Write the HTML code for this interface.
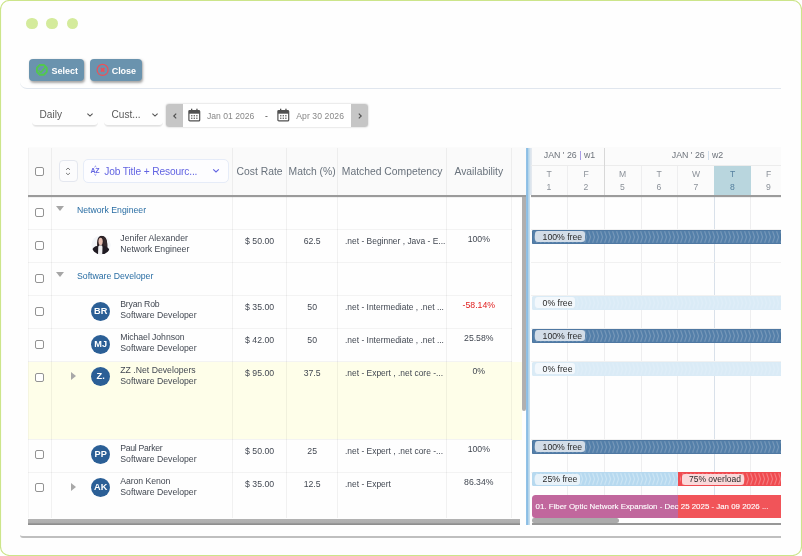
<!DOCTYPE html>
<html lang="en">
<head>
<meta charset="utf-8">
<title>Resource Selection</title>
<style>
*{box-sizing:border-box;margin:0;padding:0}
html,body{width:802px;height:556px;background:#fff;overflow:hidden}
body{font-family:"Liberation Sans",sans-serif;position:relative;color:#333}
.abs{position:absolute}
#frame{position:absolute;left:0;top:0}
.dot{position:absolute;width:11.6px;height:11.6px;border-radius:50%;background:#d4eb9c;top:17.9px}
.btn{position:absolute;top:59px;height:22px;border-radius:4px;background:#6a93ae;color:#fff;font-weight:bold;font-size:9px;line-height:22px;box-shadow:1px 1.5px 2.5px rgba(0,0,0,.35)}
.btn span{position:absolute;top:0.5px}
#bar{position:absolute;left:20px;top:52px;width:761px;height:37px;border-bottom:1px solid #e0e6ee;border-bottom-left-radius:7px}
.dd{position:absolute;top:103px;height:23px;font-size:10.1px;color:#5a5a5a;line-height:24px;border-radius:0 0 4px 4px;border-bottom:1px solid #e2e2e2;box-shadow:0 1.5px 1px -1px rgba(0,0,0,.08)}
.dd span{position:absolute;left:7.5px;top:0}
.dd svg{position:absolute;right:4px;top:8.6px}
#range{position:absolute;left:166px;top:104px;width:201.6px;height:23px;border-radius:3px;background:#fff;box-shadow:0 0 2px rgba(0,0,0,.28);overflow:hidden;font-size:8.6px;color:#888;line-height:23px}
#range .nav{position:absolute;top:0;width:17px;height:23px;background:#c6c6c6}
#range .t{position:absolute;top:0.5px}
/* table */
#grid{position:absolute;left:28px;top:148px;width:753px;height:377px;overflow:hidden}
.hd{position:absolute;left:0;top:0;height:47px;background:#fafafa}
.hline{position:absolute;height:2px;background:#9b9b9b;top:47px;box-shadow:0 0.5px 0.6px rgba(0,0,0,.10)}
.vl{position:absolute;top:0;width:1px;background:rgba(0,0,0,.05);height:370px}
.rl{position:absolute;left:0;width:483.5px;height:1px;background:#f3f3f3}
.hc{position:absolute;top:0;height:47px;line-height:48.5px;font-size:10.35px;color:#69727c;text-align:center;white-space:nowrap}
.cb{position:absolute;left:7.3px;width:9px;height:9px;border:1px solid #939393;border-radius:2px;background:#fff}
.cell{position:absolute;font-size:8.7px;color:#424852;white-space:nowrap;line-height:11px}
.c{text-align:center}
.av{position:absolute;width:19px;height:19px;border-radius:50%;background:#2b5f96;color:#fff;font-weight:bold;font-size:9.2px;line-height:19.5px;text-align:center}
.av span{display:inline-block;transform:scale(1,1.06);transform-origin:50% 60%}
.grp{color:#296da3}
.tri{position:absolute;width:0;height:0}
.gbar{position:absolute;height:14px;left:504px;width:249px;overflow:hidden;border-radius:1.5px 0 0 1.5px}
.lab{position:absolute;left:3.4px;top:1.7px;height:10.6px;border-radius:3px;font-size:8.7px;line-height:10.6px;color:#2a2a2a;padding:0.4px 2.8px 0 7.2px;white-space:nowrap}
#foot{position:absolute;left:20px;top:530px;width:761px;height:8px;border-bottom:2px solid #bfbfbf;border-bottom-left-radius:3px}
</style>
</head>
<body>
<svg id="frame" width="802" height="556" viewBox="0 0 802 556"><rect x="0.5" y="0.5" width="801" height="555" rx="9" ry="9" fill="#fefefe" stroke="#cce58a" stroke-width="1.15"/></svg>
<div class="dot" style="left:26px"></div>
<div class="dot" style="left:46.4px"></div>
<div class="dot" style="left:66.7px"></div>

<div id="bar"></div>
<div class="btn" style="left:29px;width:55px">
  <svg class="abs" style="left:6px;top:4px" width="14" height="14" viewBox="0 0 14 14"><polygon points="11.75,8.88 8.88,11.75 4.82,11.75 1.95,8.88 1.95,4.82 4.82,1.95 8.88,1.95 11.75,4.82" fill="none" stroke="#52c84e" stroke-width="1.9" stroke-linejoin="round"/><path d="M3.9 7.9 L5.8 9.4 L9.8 4.8" fill="none" stroke="#52c84e" stroke-width="1.5" stroke-linecap="round" stroke-linejoin="round"/></svg>
  <span style="left:22.5px">Select</span>
</div>
<div class="btn" style="left:90px;width:52px">
  <svg class="abs" style="left:6px;top:4px" width="14" height="14" viewBox="0 0 14 14"><circle cx="6.6" cy="6.9" r="5.5" fill="none" stroke="#f04e56" stroke-width="1.15"/><path d="M4.9 5.2 L8.3 8.6 M8.3 5.2 L4.9 8.6" fill="none" stroke="#f04e56" stroke-width="1.7"/></svg>
  <span style="left:21.8px;letter-spacing:-0.1px">Close</span>
</div>

<div class="dd" style="left:32px;width:66px"><span>Daily</span>
  <svg width="8" height="6" viewBox="0 0 8 6"><path d="M1.4 1.6 L4 4.1 L6.6 1.6" fill="none" stroke="#555" stroke-width="1.1"/></svg></div>
<div class="dd" style="left:104px;width:59px"><span>Cust...</span>
  <svg width="8" height="6" viewBox="0 0 8 6"><path d="M1.4 1.6 L4 4.1 L6.6 1.6" fill="none" stroke="#555" stroke-width="1.1"/></svg></div>

<div id="range">
  <div class="nav" style="left:0"><svg class="abs" style="left:6px;top:7.5px" width="6" height="8" viewBox="0 0 6 8"><path d="M4.2 1.7 L1.8 4 L4.2 6.3" fill="none" stroke="#505050" stroke-width="1.15"/></svg></div>
  <svg class="abs" style="left:22px;top:4px" width="13" height="14" viewBox="0 0 13 14"><rect x="0.9" y="2.5" width="10.8" height="10.4" rx="1" fill="#fff" stroke="#505050" stroke-width="1.2"/><rect x="0.9" y="2.5" width="10.8" height="3.2" fill="#505050"/><rect x="3" y="0.7" width="1.3" height="2.6" fill="#505050"/><rect x="8.3" y="0.7" width="1.3" height="2.6" fill="#505050"/><g fill="#5a5a5a"><rect x="3.1" y="7.1" width="1.3" height="1.3"/><rect x="5.65" y="7.1" width="1.3" height="1.3"/><rect x="8.2" y="7.1" width="1.3" height="1.3"/><rect x="3.1" y="9.6" width="1.3" height="1.3"/><rect x="5.65" y="9.6" width="1.3" height="1.3"/><rect x="8.2" y="9.6" width="1.3" height="1.3"/></g></svg>
  <span class="t" style="left:41px">Jan 01 2026</span>
  <span class="t" style="left:99px;color:#444">-</span>
  <svg class="abs" style="left:111px;top:4px" width="13" height="14" viewBox="0 0 13 14"><rect x="0.9" y="2.5" width="10.8" height="10.4" rx="1" fill="#fff" stroke="#505050" stroke-width="1.2"/><rect x="0.9" y="2.5" width="10.8" height="3.2" fill="#505050"/><rect x="3" y="0.7" width="1.3" height="2.6" fill="#505050"/><rect x="8.3" y="0.7" width="1.3" height="2.6" fill="#505050"/><g fill="#5a5a5a"><rect x="3.1" y="7.1" width="1.3" height="1.3"/><rect x="5.65" y="7.1" width="1.3" height="1.3"/><rect x="8.2" y="7.1" width="1.3" height="1.3"/><rect x="3.1" y="9.6" width="1.3" height="1.3"/><rect x="5.65" y="9.6" width="1.3" height="1.3"/><rect x="8.2" y="9.6" width="1.3" height="1.3"/></g></svg>
  <span class="t" style="left:130.2px;letter-spacing:0.1px">Apr 30 2026</span>
  <div class="nav" style="left:185px"><svg class="abs" style="left:5.5px;top:7.5px" width="6" height="8" viewBox="0 0 6 8"><path d="M1.8 1.7 L4.2 4 L1.8 6.3" fill="none" stroke="#505050" stroke-width="1.15"/></svg></div>
</div>

<div id="hdtop" class="abs" style="left:28px;top:147px;width:753px;height:1px;background:#fbfbfb"></div>
<div id="grid">
<div class="hd" style="width:498px"></div>
<div class="abs" style="left:0;top:213.60000000000002px;width:493.7px;height:78.1px;background:#fefee9"></div>
<div class="rl" style="top:81.0px"></div>
<div class="rl" style="top:114.0px"></div>
<div class="rl" style="top:147.0px"></div>
<div class="rl" style="top:180.0px"></div>
<div class="rl" style="top:213.0px"></div>
<div class="rl" style="top:291.0px"></div>
<div class="rl" style="top:324.0px"></div>
<div class="vl" style="left:0;background:rgba(0,0,0,.035)"></div>
<div class="vl" style="left:23.0px"></div>
<div class="vl" style="left:204.1px"></div>
<div class="vl" style="left:258.1px"></div>
<div class="vl" style="left:309.2px"></div>
<div class="vl" style="left:418.1px"></div>
<div class="vl" style="left:482.5px"></div>
<div class="cb" style="top:19px"></div>
<div class="abs" style="left:31px;top:12px;width:19px;height:22px;border:1px solid #e4e7ef;border-radius:4px;background:#fcfcfd">
<svg class="abs" style="left:4px;top:4.7px" width="8" height="11" viewBox="0 0 8 11"><path d="M2 3.9 L4 2 L6 3.9 M2 6.9 L4 8.8 L6 6.9" fill="none" stroke="#808080" stroke-width="1"/></svg></div>
<div class="abs" style="left:55px;top:11px;width:146px;height:24px;border:1px solid #e6ecf8;border-radius:5px;background:#fdfdff;font-size:10.2px;letter-spacing:-0.13px;color:#6264e2;line-height:23.4px">
<svg class="abs" style="left:5.6px;top:3.5px" width="12" height="13" viewBox="0 0 12 13"><text x="0.6" y="9" font-family="Liberation Sans, sans-serif" font-size="7" font-weight="bold" letter-spacing="-0.5" fill="#6264e2">AZ</text><path d="M4.5 3 L5.4 2.2 L6.3 3 M4.5 10.3 L5.4 11.1 L6.3 10.3" fill="none" stroke="#6264e2" stroke-width="0.9"/></svg>
<span class="abs" style="left:20.2px;top:0">Job Title + Resourc...</span>
<svg class="abs" style="left:128px;top:8.4px" width="8" height="6" viewBox="0 0 8 6"><path d="M1.2 1.3 L4 4 L6.8 1.3" fill="none" stroke="#6264e2" stroke-width="1.1"/></svg></div>
<div class="hc" style="left:204.6px;width:54.00000000000003px">Cost Rate</div>
<div class="hc" style="left:258.6px;width:51.099999999999966px">Match (%)</div>
<div class="hc" style="left:309.7px;width:108.90000000000003px">Matched Competency</div>
<div class="hc" style="left:418.6px;width:64.39999999999998px">Availability</div>
<div class="cb" style="top:60.0px"></div>
<div class="tri" style="left:28px;top:58.099999999999994px;border-left:4.4px solid transparent;border-right:4.4px solid transparent;border-top:5px solid #a6a6a6"></div>
<div class="cell grp" style="left:49px;top:56.5px">Network Engineer</div>
<div class="cb" style="top:92.5px"></div>
<svg class="abs" style="left:62.900000000000006px;top:87.4px" width="20" height="20" viewBox="0 0 20 20"><defs><clipPath id="cp"><circle cx="10" cy="10" r="9.6"/></clipPath></defs><circle cx="10" cy="10" r="9.6" fill="#f2f4f7"/><g clip-path="url(#cp)"><path d="M6.2 11.5 C5.6 6 6.6 0.8 10.6 0.8 C14.8 0.8 16.6 5 16.2 12.5 L11.5 12.5 Z" fill="#2b2024"/><ellipse cx="9.6" cy="6.4" rx="2.1" ry="3.6" fill="#e6bfb2"/><path d="M11 3 C13 4 13.5 8 13 12 L16.3 12.5 C16.6 6 15 2 12 1.5 Z" fill="#33282b"/><path d="M0.8 19 C0.8 13 3 11.2 7.6 10.8 L10 14 L11.6 10.8 C16 11.2 19 13 19 19 Z" fill="#1f1a22"/><path d="M7.3 11.6 L8.6 10.2 L11 10.4 L11.5 12 L11.2 20 L7 20 Z" fill="#efeff1"/></g></svg>
<div class="cell" style="left:92.3px;top:84.5px;line-height:11px"><span style="letter-spacing:0.03px">Jenifer Alexander</span><br>Network Engineer</div>
<div class="cell c" style="left:204.6px;width:54px;top:87.5px">$ 50.00</div>
<div class="cell c" style="left:258.6px;width:51.1px;top:87.5px">62.5</div>
<div class="cell" style="left:317px;top:87.5px;font-size:8.45px">.net - Beginner , Java - E...</div>
<div class="cell c" style="left:418.6px;width:64.4px;top:86.0px">100%</div>
<div class="cb" style="top:126.0px"></div>
<div class="tri" style="left:28px;top:124.10000000000002px;border-left:4.4px solid transparent;border-right:4.4px solid transparent;border-top:5px solid #a6a6a6"></div>
<div class="cell grp" style="left:49px;top:122.5px">Software Developer</div>
<div class="cb" style="top:158.5px"></div>
<div class="av" style="left:63.2px;top:153.7px"><span>BR</span></div>
<div class="cell" style="left:92.3px;top:150.5px;line-height:11px"><span style="letter-spacing:-0.22px">Bryan Rob</span><br>Software Developer</div>
<div class="cell c" style="left:204.6px;width:54px;top:153.5px">$ 35.00</div>
<div class="cell c" style="left:258.6px;width:51.1px;top:153.5px">50</div>
<div class="cell" style="left:317px;top:153.5px;font-size:8.45px">.net - Intermediate , .net ...</div>
<div class="cell c" style="left:418.6px;width:64.4px;top:152.0px;color:#e02020">-58.14%</div>
<div class="cb" style="top:191.5px"></div>
<div class="av" style="left:63.2px;top:186.7px"><span>MJ</span></div>
<div class="cell" style="left:92.3px;top:183.5px;line-height:11px"><span style="letter-spacing:-0.07px">Michael Johnson</span><br>Software Developer</div>
<div class="cell c" style="left:204.6px;width:54px;top:186.5px">$ 42.00</div>
<div class="cell c" style="left:258.6px;width:51.1px;top:186.5px">50</div>
<div class="cell" style="left:317px;top:186.5px;font-size:8.45px">.net - Intermediate , .net ...</div>
<div class="cell c" style="left:418.6px;width:64.4px;top:185.0px">25.58%</div>
<div class="cb" style="top:224.5px"></div>
<div class="tri" style="left:43px;top:224.10000000000002px;border-top:4.3px solid transparent;border-bottom:4.3px solid transparent;border-left:5px solid #a8a8a8"></div>
<div class="av" style="left:63.2px;top:219.3px"><span>Z.</span></div>
<div class="cell" style="left:92.3px;top:216.5px;line-height:11px"><span style="letter-spacing:0px">ZZ .Net Developers</span><br>Software Developer</div>
<div class="cell c" style="left:204.6px;width:54px;top:219.5px">$ 95.00</div>
<div class="cell c" style="left:258.6px;width:51.1px;top:219.5px">37.5</div>
<div class="cell" style="left:317px;top:219.5px;font-size:8.45px">.net - Expert , .net core -...</div>
<div class="cell c" style="left:418.6px;width:64.4px;top:218.0px">0%</div>
<div class="cb" style="top:302.0px"></div>
<div class="av" style="left:63.2px;top:297.2px"><span>PP</span></div>
<div class="cell" style="left:92.3px;top:295px;line-height:11px"><span style="letter-spacing:-0.3px">Paul Parker</span><br>Software Developer</div>
<div class="cell c" style="left:204.6px;width:54px;top:298px">$ 50.00</div>
<div class="cell c" style="left:258.6px;width:51.1px;top:298px">25</div>
<div class="cell" style="left:317px;top:298px;font-size:8.45px">.net - Expert , .net core -...</div>
<div class="cell c" style="left:418.6px;width:64.4px;top:295.5px">100%</div>
<div class="cb" style="top:335.0px"></div>
<div class="tri" style="left:43px;top:334.6px;border-top:4.3px solid transparent;border-bottom:4.3px solid transparent;border-left:5px solid #a8a8a8"></div>
<div class="av" style="left:63.2px;top:330.2px"><span>AK</span></div>
<div class="cell" style="left:92.3px;top:328px;line-height:11px"><span style="letter-spacing:-0.08px">Aaron Kenon</span><br>Software Developer</div>
<div class="cell c" style="left:204.6px;width:54px;top:331px">$ 35.00</div>
<div class="cell c" style="left:258.6px;width:51.1px;top:331px">12.5</div>
<div class="cell" style="left:317px;top:331px;font-size:8.45px">.net - Expert</div>
<div class="cell c" style="left:418.6px;width:64.4px;top:328.5px">86.34%</div>
<div class="hline" style="left:0;width:498px"></div>
<div class="abs" style="left:493.6px;top:49px;width:4.6px;height:214px;background:#b0afaf;border-radius:0 0 2px 2px"></div>
<div class="abs" style="left:0.4px;top:370.5px;width:492px;height:6.3px;background:linear-gradient(#b3b3b3,#adadad 65%,#8e8e8e 80%)"></div>
<div class="abs" style="left:498px;top:0;width:3.6px;height:377px;background:linear-gradient(90deg,#94c3e7,#8abde4 45%,#b3d4ea 62%,#cfe2ee)"></div>
<div class="abs" style="left:503.4px;top:0;width:249.60000000000002px;height:47px;background:#fbfbfb"></div>
<div class="abs" style="left:502px;top:0;width:2px;height:47px;background:linear-gradient(90deg,#d9e3ec,#e6eaf0)"></div>
<div class="abs" style="left:539.1px;top:18px;width:1px;height:352px;background:#eeeeef"></div>
<div class="abs" style="left:575.9px;top:18px;width:1px;height:352px;background:#eeeeef"></div>
<div class="abs" style="left:612.7px;top:18px;width:1px;height:352px;background:#eeeeef"></div>
<div class="abs" style="left:649.0px;top:18px;width:1px;height:352px;background:#eeeeef"></div>
<div class="abs" style="left:685.9px;top:18px;width:1px;height:352px;background:#d9e1ea"></div>
<div class="abs" style="left:722.3px;top:18px;width:1px;height:352px;background:#eeeeef"></div>
<div class="abs" style="left:503.4px;top:17px;width:249.60000000000002px;height:1px;background:#ececec"></div>
<div class="abs" style="left:575.9px;top:0;width:1px;height:47px;background:#d8d8d8"></div>
<div class="abs" style="left:686.2px;top:18px;width:36.4px;height:29px;background:#b9d6de"></div>
<div class="abs" style="left:501.5px;top:0;width:80px;height:17px;line-height:15px;text-align:center;font-size:8.8px;color:#6c727a;white-space:nowrap">JAN ' 26 <span style="color:#8a7be0">|</span> w1</div>
<div class="abs" style="left:629.5px;top:0;width:80px;height:17px;line-height:15px;text-align:center;font-size:8.8px;color:#6c727a;white-space:nowrap">JAN ' 26 <span style="color:#c5d6e6">|</span> w2</div>
<div class="abs" style="left:506px;top:20px;width:30px;text-align:center;font-size:8.6px;line-height:13.2px;color:#8b9199">T<br>1</div>
<div class="abs" style="left:543px;top:20px;width:30px;text-align:center;font-size:8.6px;line-height:13.2px;color:#8b9199">F<br>2</div>
<div class="abs" style="left:579.5px;top:20px;width:30px;text-align:center;font-size:8.6px;line-height:13.2px;color:#8b9199">M<br>5</div>
<div class="abs" style="left:616px;top:20px;width:30px;text-align:center;font-size:8.6px;line-height:13.2px;color:#8b9199">T<br>6</div>
<div class="abs" style="left:653px;top:20px;width:30px;text-align:center;font-size:8.6px;line-height:13.2px;color:#8b9199">W<br>7</div>
<div class="abs" style="left:689.5px;top:20px;width:30px;text-align:center;font-size:8.6px;line-height:13.2px;color:#55809f">T<br>8</div>
<div class="abs" style="left:725.5px;top:20px;width:30px;text-align:center;font-size:8.6px;line-height:13.2px;color:#8b9199">F<br>9</div>
<div class="hline" style="left:503.4px;width:249.60000000000002px"></div>
<div class="abs" style="left:503.4px;top:81.0px;width:249.60000000000002px;height:1px;background:#f1f1f1"></div>
<div class="abs" style="left:503.4px;top:114.0px;width:249.60000000000002px;height:1px;background:#f1f1f1"></div>
<div class="abs" style="left:503.4px;top:147.0px;width:249.60000000000002px;height:1px;background:#f1f1f1"></div>
<div class="abs" style="left:503.4px;top:180.0px;width:249.60000000000002px;height:1px;background:#f1f1f1"></div>
<div class="abs" style="left:503.4px;top:213.0px;width:249.60000000000002px;height:1px;background:#f1f1f1"></div>
<div class="abs" style="left:503.4px;top:291.0px;width:249.60000000000002px;height:1px;background:#f1f1f1"></div>
<div class="abs" style="left:503.4px;top:324.0px;width:249.60000000000002px;height:1px;background:#f1f1f1"></div>
<div class="gbar" style="top:81.69999999999999px;background:#547fa9;box-shadow:inset 0 0 0 0.6px #4a739c"><svg class="abs" style="left:0;top:0" width="251" height="14"><defs><pattern id="p1" width="4" height="14" patternUnits="userSpaceOnUse"><path d="M0.6 1.2 L2.6 7 L0.6 12.8" fill="none" stroke="#7698b9" stroke-width="1.1"/></pattern></defs><rect x="2" width="251" height="14" fill="url(#p1)"/></svg><div class="lab" style="background:#d3dde8">100% free</div></div>
<div class="gbar" style="top:147.7px;background:#daebf6"><svg class="abs" style="left:0;top:0" width="251" height="14"><defs><pattern id="p2" width="4" height="14" patternUnits="userSpaceOnUse"><path d="M0.6 1.2 L2.6 7 L0.6 12.8" fill="none" stroke="#dfeef8" stroke-width="1.1"/></pattern></defs><rect x="2" width="251" height="14" fill="url(#p2)"/></svg><div class="lab" style="background:#f3f8fc">0% free</div></div>
<div class="gbar" style="top:180.7px;background:#547fa9;box-shadow:inset 0 0 0 0.6px #4a739c"><svg class="abs" style="left:0;top:0" width="251" height="14"><defs><pattern id="p3" width="4" height="14" patternUnits="userSpaceOnUse"><path d="M0.6 1.2 L2.6 7 L0.6 12.8" fill="none" stroke="#7698b9" stroke-width="1.1"/></pattern></defs><rect x="2" width="251" height="14" fill="url(#p3)"/></svg><div class="lab" style="background:#d3dde8">100% free</div></div>
<div class="gbar" style="top:213.7px;background:#daebf6"><svg class="abs" style="left:0;top:0" width="251" height="14"><defs><pattern id="p4" width="4" height="14" patternUnits="userSpaceOnUse"><path d="M0.6 1.2 L2.6 7 L0.6 12.8" fill="none" stroke="#dfeef8" stroke-width="1.1"/></pattern></defs><rect x="2" width="251" height="14" fill="url(#p4)"/></svg><div class="lab" style="background:#f3f8fc">0% free</div></div>
<div class="gbar" style="top:291.6px;background:#547fa9;box-shadow:inset 0 0 0 0.6px #4a739c"><svg class="abs" style="left:0;top:0" width="251" height="14"><defs><pattern id="p5" width="4" height="14" patternUnits="userSpaceOnUse"><path d="M0.6 1.2 L2.6 7 L0.6 12.8" fill="none" stroke="#7698b9" stroke-width="1.1"/></pattern></defs><rect x="2" width="251" height="14" fill="url(#p5)"/></svg><div class="lab" style="background:#d3dde8">100% free</div></div>
<div class="gbar" style="top:324.3px;background:#b7d9ef"><svg class="abs" style="left:0;top:0" width="251" height="14"><defs><pattern id="p6" width="4" height="14" patternUnits="userSpaceOnUse"><path d="M0.6 1.2 L2.6 7 L0.6 12.8" fill="none" stroke="#cce5f4" stroke-width="1.1"/></pattern></defs><rect x="2" width="251" height="14" fill="url(#p6)"/></svg><div class="abs" style="left:145.89999999999998px;top:0;width:110px;height:14px;background:#ef4b50;overflow:hidden"><svg class="abs" style="left:0;top:0" width="251" height="14"><defs><pattern id="p7" width="4" height="14" patternUnits="userSpaceOnUse"><path d="M0.6 1.2 L2.6 7 L0.6 12.8" fill="none" stroke="#f47c80" stroke-width="1.1"/></pattern></defs><rect x="2" width="251" height="14" fill="url(#p7)"/></svg></div><div class="lab" style="background:#e8f2f9">25% free</div><div class="lab" style="left:149.79999999999995px;background:#fad9da;font-size:8.5px">75% overload</div></div>
<div class="abs" style="left:504px;top:347px;width:249px;height:23px;background:#c1679d;border-radius:3.5px 0 0 3.5px;overflow:hidden"><div class="abs" style="left:145.89999999999998px;top:0;width:110px;height:24px;background:#f15459"></div><div class="abs" style="left:3.6px;top:0.2px;line-height:23px;font-size:7.9px;color:#fff;white-space:nowrap;-webkit-text-stroke:0.12px #fff">01. Fiber Optic Network Expansion - Dec 25 2025 - Jan 09 2026 ...</div></div>
<div class="abs" style="left:504px;top:375px;width:249px;height:1.8px;background:#979797"></div>
<div class="abs" style="left:504px;top:370px;width:86.8px;height:5px;background:#ababab;border-radius:2px 2.5px 2.5px 2px"></div>
</div>
<div id="foot"></div>
</body>
</html>
